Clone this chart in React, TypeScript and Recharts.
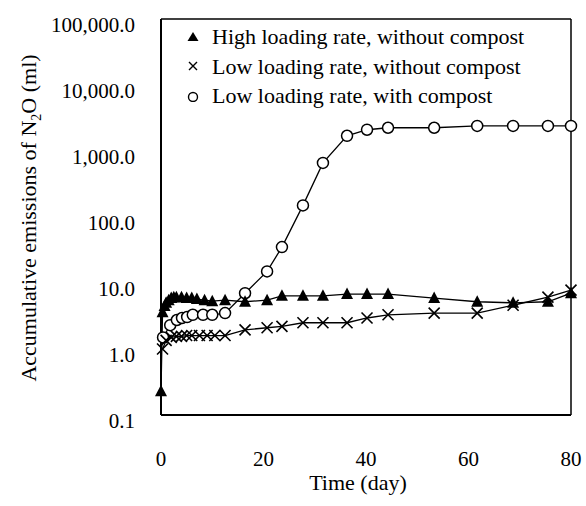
import React from "react";
import { LineChart, Line, XAxis, YAxis, ReferenceLine, Legend } from "recharts";

// days and accumulative N2O (ml)
const highDays = [0, 0.3, 0.7, 1, 1.5, 2, 2.5, 3, 4, 5, 6, 7, 8.5, 10, 12.5, 16.4, 20.7, 23.6, 27.7, 31.6, 36.3, 40.2, 44.3, 53.3, 61.7, 68.7, 75.5, 80];
const highN2O = [0.23, 3.6, 4.5, 5.0, 5.5, 5.9, 6.1, 6.1, 6.1, 5.9, 5.9, 5.7, 5.5, 5.3, 5.5, 5.2, 5.5, 6.4, 6.4, 6.4, 6.8, 6.8, 6.8, 5.9, 5.2, 5.0, 5.2, 7.0];

const lowDays = [0.3, 1, 2, 3, 4, 5, 6, 7.5, 9, 10.5, 12.5, 16.4, 20.7, 23.6, 27.7, 31.6, 36.3, 40.2, 44.3, 53.3, 61.7, 68.7, 75.5, 80];
const lowN2O = [1.0, 1.35, 1.5, 1.55, 1.55, 1.6, 1.6, 1.6, 1.6, 1.6, 1.6, 1.95, 2.1, 2.2, 2.5, 2.5, 2.5, 2.95, 3.3, 3.5, 3.5, 4.6, 6.1, 7.8];

const compostDays = [0.4, 1.8, 3.1, 4.1, 5.1, 6.2, 8.2, 10, 12.5, 16.4, 20.7, 23.6, 27.7, 31.6, 36.3, 40.2, 44.3, 53.3, 61.7, 68.7, 75.5, 80];
const compostN2O = [1.5, 2.3, 2.75, 2.95, 3.05, 3.3, 3.3, 3.3, 3.5, 7.0, 15, 35, 150, 660, 1700, 2100, 2250, 2250, 2400, 2400, 2400, 2400];

const xTicks = [0, 20, 40, 60, 80];
const yTicks = [0.1, 1, 10, 100, 1000, 10000, 100000];

const seriesNames = [
  "High loading rate, without compost",
  "Low loading rate, without compost",
  "Low loading rate, with compost",
];

const toPoints = (days: number[], vals: number[]) => days.map((d, i) => ({ day: d, v: vals[i] }));

const highData = toPoints(highDays, highN2O);
const lowData = toPoints(lowDays, lowN2O);
const compostData = toPoints(compostDays, compostN2O);

const FONT = "Liberation Serif, Tinos, DejaVu Serif, serif";

const Tri = (p: any) => {
  const { cx, cy, index } = p;
  if (cx == null || cy == null) return <g key={index} />;
  return <polygon key={index} points={`${cx},${cy - 6.5} ${cx - 6},${cy + 5} ${cx + 6},${cy + 5}`} fill="#000" />;
};

const Cross = (p: any) => {
  const { cx, cy, index } = p;
  if (cx == null || cy == null) return <g key={index} />;
  const s = 5.5;
  return (
    <path key={index} d={`M${cx - s},${cy - s}L${cx + s},${cy + s}M${cx - s},${cy + s}L${cx + s},${cy - s}`} stroke="#000" strokeWidth={1.6} />
  );
};

const Ring = (p: any) => {
  const { cx, cy, index } = p;
  if (cx == null || cy == null) return <g key={index} />;
  return <circle key={index} cx={cx} cy={cy} r={5.5} fill="#fff" stroke="#000" strokeWidth={1.5} />;
};

const fmtY = (v: number) => v.toLocaleString("en-US", { minimumFractionDigits: 1, maximumFractionDigits: 1 });

const YTick = (p: any) => (
  <text x={p.x - 18} y={p.y + 13} textAnchor="end" style={{ fontFamily: FONT }} fontSize={21} fill="#000">
    {fmtY(p.payload.value)}
  </text>
);

const XTick = (p: any) => (
  <text x={p.x} y={p.y + 43} textAnchor="middle" style={{ fontFamily: FONT }} fontSize={21} fill="#000">
    {p.payload.value}
  </text>
);

const YTitle = () => (
  <text x={36} y={218} transform="rotate(-90, 36, 218)" textAnchor="middle" style={{ fontFamily: FONT }} fontSize={22} fill="#000">
    Accumulative emissions of N
    <tspan fontSize={14} dy={5}>2</tspan>
    <tspan dy={-5}>O (ml)</tspan>
  </text>
);

const XTitle = () => (
  <text x={358} y={490} textAnchor="middle" style={{ fontFamily: FONT }} fontSize={22} fill="#000">
    Time (day)
  </text>
);

const legendMarks = [
  <polygon points="6,1 0.5,10 11.5,10" fill="#000" />,
  <path d="M2,2L10,10M2,10L10,2" stroke="#000" strokeWidth={1.4} />,
  <circle cx={6} cy={7} r={4.5} fill="#fff" stroke="#000" strokeWidth={1.4} />,
];

const renderLegend = () => (
  <div style={{ fontFamily: FONT, fontSize: 22, color: "#000", lineHeight: "29.5px" }}>
    {seriesNames.map((n, i) => (
      <div key={n} style={{ display: "flex", alignItems: "center", whiteSpace: "nowrap" }}>
        <svg width={12} height={12} style={{ marginRight: 13 }}>
          {legendMarks[i]}
        </svg>
        <span>{n}</span>
      </div>
    ))}
  </div>
);

export default function App() {
  return (
    <div style={{ position: "absolute", left: 0, top: 0, background: "#fff" }}>
      <LineChart width={586} height={506} margin={{ top: 19, right: 15, left: 0, bottom: 0 }}>
        <XAxis
          dataKey="day"
          type="number"
          domain={[0, 80]}
          ticks={xTicks}
          height={91}
          tickLine={false}
          axisLine={{ stroke: "#000", strokeWidth: 2 }}
          tick={<XTick />}
          allowDuplicatedCategory={false}
          label={<XTitle />}
        />
        <YAxis
          dataKey="v"
          scale="log"
          domain={[0.1, 100000]}
          ticks={yTicks}
          width={161}
          allowDataOverflow
          tickLine={false}
          axisLine={{ stroke: "#000", strokeWidth: 2 }}
          tick={<YTick />}
          label={<YTitle />}
        />
        <ReferenceLine y={100000} stroke="#000" strokeWidth={1.5} />
        <ReferenceLine x={80} stroke="#000" strokeWidth={1.5} />
        <Legend
          layout="horizontal"
          verticalAlign="middle"
          content={renderLegend}
          wrapperStyle={{ top: 22, left: 187, width: 380 }}
        />
        <Line data={compostData} dataKey="v" name={seriesNames[2]} stroke="#000" strokeWidth={1.3} dot={Ring} isAnimationActive={false} />
        <Line data={lowData} dataKey="v" name={seriesNames[1]} stroke="#000" strokeWidth={1.3} dot={Cross} isAnimationActive={false} />
        <Line data={highData} dataKey="v" name={seriesNames[0]} stroke="#000" strokeWidth={1.3} dot={Tri} isAnimationActive={false} />
      </LineChart>
    </div>
  );
}
